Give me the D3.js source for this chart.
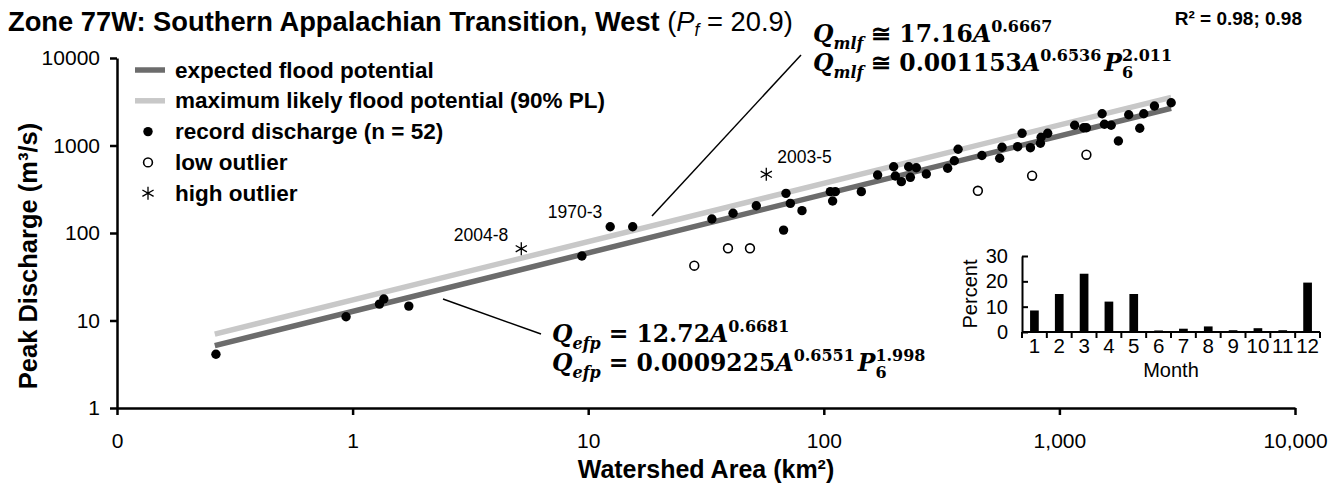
<!DOCTYPE html>
<html>
<head>
<meta charset="utf-8">
<script src="https://cdn.jsdelivr.net/npm/d3@7"></script>
<style>
  html, body { margin: 0; padding: 0; background: #fff; }
  svg { display: block; font-family: "Liberation Sans", Arial, sans-serif; }
</style>
</head>
<body>
<svg id="chart" width="1332" height="489"></svg>
<script>
// ---- Data -------------------------------------------------------------
// Record discharges: watershed area (km²) and peak discharge (m³/s)
const recordArea = [0.263, 0.938, 1.30, 1.357, 1.732, 9.40, 12.4, 15.45, 33.5, 41.2,
  51.7, 67.5, 69.1, 72.1, 80.8, 106.6, 111.9, 109, 144.3, 169.2,
  197.9, 201.2, 213.4, 229.2, 233, 247, 272.4, 335.6, 358.2, 371.5,
  468.9, 557.9, 571, 665, 694.3, 753.2, 830.6, 836.4, 891.9, 1161,
  1268, 1302, 1518, 1553, 1658, 1780, 1969, 2193, 2280, 2532, 2981];
const recordQ = [4.11, 11.05, 15.4, 17.6, 14.6, 54.6, 118, 118, 144.5, 168,
  205, 108, 284, 218, 180, 297, 297, 232, 297, 460,
  572, 448, 386, 572, 433, 557, 472, 549, 670, 905,
  769, 714, 954, 969, 1378, 944, 1060, 1241, 1378, 1702,
  1597, 1597, 2309, 1747, 1702, 1126, 2249, 1573, 2309, 2828, 3084];

// Low outliers
const lowArea = [28.2, 39.2, 48.6, 450.8, 765.9, 1302];
const lowQ = [42.3, 66.9, 66.9, 303.6, 451.7, 785];

// High outliers (with event year-month)
const highArea = [5.2, 57];
const highQ = [66.2, 469];
const highLabel = ["2004-8", "2003-5"];

// Annotated record event
const noteArea = [12.4];
const noteQ = [118];
const noteLabel = ["1970-3"];

// Envelope curves Q = a·A^b
const efpCoef = [12.72, 0.6681];
const mlfCoef = [17.16, 0.6667];
const curveArea = [0.26, 2981];

// Month of occurrence (percent of events)
const months = ["1", "2", "3", "4", "5", "6", "7", "8", "9", "10", "11", "12"];
const monthPercent = [8.5, 15, 23, 12, 15, 0.6, 1.3, 2.2, 0.7, 1.5, 0.7, 19.5];
const percentTicks = [0, 10, 20, 30];

// Axis ticks
const xTickValues = [0.1, 1, 10, 100, 1000, 10000];
const xTickLabels = ["0", "1", "10", "100", "1,000", "10,000"];
const yTickValues = [1, 10, 100, 1000, 10000];
const yTickLabels = ["1", "10", "100", "1000", "10000"];

// ---- Layout -----------------------------------------------------------
const svg = d3.select("#chart");
const plot = { left: 117, right: 1295, top: 58, bottom: 408 };
const x = d3.scaleLog().domain([0.1, 10000]).range([plot.left, plot.right]);
const y = d3.scaleLog().domain([1, 10000]).range([plot.bottom, plot.top]);

const darkGrey = "#6c6c6c";
const lightGrey = "#c8c8c8";

// ---- Title --------------------------------------------------------------
const title = svg.append("text").attr("x", 8).attr("y", 31)
  .attr("font-size", 27.3).attr("font-weight", "bold").attr("fill", "#000")
  .text("Zone 77W: Southern Appalachian Transition, West ");
const tNorm = title.append("tspan").attr("font-weight", "normal");
tNorm.append("tspan").text("(");
tNorm.append("tspan").attr("font-style", "italic").text("P");
tNorm.append("tspan").attr("font-style", "italic").attr("font-size", 17.5).attr("dy", 5).text("f");
tNorm.append("tspan").attr("dy", -5).text(" = 20.9)");

svg.append("text").attr("x", 1302).attr("y", 25).attr("text-anchor", "end")
  .attr("font-size", 19).attr("font-weight", "bold")
  .text("R² = 0.98; 0.98");

// ---- Axes ---------------------------------------------------------------
const xAxis = d3.axisBottom(x).tickValues(xTickValues)
  .tickFormat((d, i) => xTickLabels[i]).tickSizeInner(7).tickSizeOuter(0).tickPadding(18);
const yAxis = d3.axisLeft(y).tickValues(yTickValues)
  .tickFormat((d, i) => yTickLabels[i]).tickSizeInner(7).tickSizeOuter(0).tickPadding(10);

const gx = svg.append("g").attr("transform", `translate(0,${plot.bottom})`).call(xAxis);
const gy = svg.append("g").attr("transform", `translate(${plot.left},0)`).call(yAxis);
[gx, gy].forEach(g => {
  g.selectAll("path, line").attr("stroke", "#000").attr("stroke-width", 2.5);
  g.selectAll("text").attr("font-size", 21).attr("fill", "#000")
    .attr("font-family", "'Liberation Sans', Arial, sans-serif");
});

svg.append("text").attr("x", (plot.left + plot.right) / 2).attr("y", 478)
  .attr("text-anchor", "middle").attr("font-size", 25).attr("font-weight", "bold")
  .text("Watershed Area (km²)");
svg.append("text").attr("transform", "translate(37,256) rotate(-90)")
  .attr("text-anchor", "middle").attr("font-size", 25.5).attr("font-weight", "bold")
  .text("Peak Discharge (m³/s)");

// ---- Envelope curves ------------------------------------------------------
const curve = (coef) => curveArea.map(a => [a, coef[0] * Math.pow(a, coef[1])]);
const line = d3.line().x(d => x(d[0])).y(d => y(d[1]));
svg.append("path").datum(curve(mlfCoef)).attr("d", line)
  .attr("fill", "none").attr("stroke", lightGrey).attr("stroke-width", 5.5);
svg.append("path").datum(curve(efpCoef)).attr("d", line)
  .attr("fill", "none").attr("stroke", darkGrey).attr("stroke-width", 5.5);

// ---- Points ---------------------------------------------------------------
const dotR = 4.7;
svg.append("g").selectAll("circle").data(recordArea).join("circle")
  .attr("cx", d => x(d)).attr("cy", (d, i) => y(recordQ[i])).attr("r", dotR).attr("fill", "#000");

svg.append("g").selectAll("circle").data(lowArea).join("circle")
  .attr("cx", d => x(d)).attr("cy", (d, i) => y(lowQ[i])).attr("r", 4.4)
  .attr("fill", "#fff").attr("stroke", "#000").attr("stroke-width", 1.6);

const starPath = "M0,-6.5L0,6.5M-5.6,-3.2L5.6,3.2M-5.6,3.2L5.6,-3.2";
svg.append("g").selectAll("path").data(highArea).join("path")
  .attr("transform", (d, i) => `translate(${x(d)},${y(highQ[i])})`)
  .attr("d", starPath).attr("stroke", "#000").attr("stroke-width", 1.3).attr("fill", "none");

// Event labels
svg.append("text").attr("x", x(highArea[0]) - 13).attr("y", y(highQ[0]) - 8)
  .attr("text-anchor", "end").attr("font-size", 17.5).text(highLabel[0]);
svg.append("text").attr("x", x(highArea[1]) + 11).attr("y", y(highQ[1]) - 11)
  .attr("font-size", 17.5).text(highLabel[1]);
svg.append("text").attr("x", x(noteArea[0]) - 8).attr("y", y(noteQ[0]) - 9)
  .attr("text-anchor", "end").attr("font-size", 17.5).text(noteLabel[0]);

// ---- Legend ---------------------------------------------------------------
const legendRows = [
  { label: "expected flood potential", kind: "line", color: darkGrey },
  { label: "maximum likely flood potential (90% PL)", kind: "line", color: lightGrey },
  { label: "record discharge (n = 52)", kind: "dot" },
  { label: "low outlier", kind: "open" },
  { label: "high outlier", kind: "star" }
];
const legend = svg.append("g");
legendRows.forEach((r, i) => {
  const cy = 70 + i * 30.8;
  if (r.kind === "line") {
    legend.append("line").attr("x1", 135).attr("x2", 165).attr("y1", cy).attr("y2", cy)
      .attr("stroke", r.color).attr("stroke-width", 5.5);
  } else if (r.kind === "dot") {
    legend.append("circle").attr("cx", 148).attr("cy", cy).attr("r", dotR).attr("fill", "#000");
  } else if (r.kind === "open") {
    legend.append("circle").attr("cx", 148).attr("cy", cy).attr("r", 4.4)
      .attr("fill", "#fff").attr("stroke", "#000").attr("stroke-width", 1.6);
  } else {
    legend.append("path").attr("transform", `translate(148,${cy})`).attr("d", starPath)
      .attr("stroke", "#000").attr("stroke-width", 1.3).attr("fill", "none");
  }
  legend.append("text").attr("x", 175).attr("y", cy + 7.5)
    .attr("font-size", 22.5).attr("font-weight", "bold").text(r.label);
});

// ---- Equations ------------------------------------------------------------
const eqFont = "'DejaVu Serif', 'Liberation Serif', serif";
const eqSize = 23.5;
function equation(x0, y0, parts) {
  let cx = x0;
  parts.forEach(p => {
    if (p.gap) { cx += p.gap; return; }
    const small = p.sub || p.sup;
    const fs = small ? eqSize * 0.68 : eqSize;
    const dy = p.sub ? eqSize * 0.3 : p.sup ? -eqSize * 0.42 : 0;
    const t = svg.append("text").attr("x", cx).attr("y", y0 + dy)
      .attr("font-family", eqFont).attr("font-size", fs).attr("font-weight", "bold")
      .attr("font-style", p.it ? "italic" : "normal").text(p.t);
    if (!p.hold) cx += t.node().getComputedTextLength();
  });
}
equation(813, 42, [
  { t: "Q", it: 1 }, { t: "mlf", it: 1, sub: 1 }, { gap: 8 }, { t: "≅" }, { gap: 8 },
  { t: "17.16" }, { t: "A", it: 1 }, { t: "0.6667", sup: 1 }
]);
equation(813, 71, [
  { t: "Q", it: 1 }, { t: "mlf", it: 1, sub: 1 }, { gap: 8 }, { t: "≅" }, { gap: 8 },
  { t: "0.001153" }, { t: "A", it: 1 }, { t: "0.6536", sup: 1 }, { gap: 3 },
  { t: "P", it: 1 }, { t: "6", sub: 1, hold: 1 }, { t: "2.011", sup: 1 }
]);
equation(552, 342, [
  { t: "Q", it: 1 }, { t: "efp", it: 1, sub: 1 }, { gap: 8 }, { t: "=" }, { gap: 8 },
  { t: "12.72" }, { t: "A", it: 1 }, { t: "0.6681", sup: 1 }
]);
equation(552, 371, [
  { t: "Q", it: 1 }, { t: "efp", it: 1, sub: 1 }, { gap: 8 }, { t: "=" }, { gap: 8 },
  { t: "0.0009225" }, { t: "A", it: 1 }, { t: "0.6551", sup: 1 }, { gap: 3 },
  { t: "P", it: 1 }, { t: "6", sub: 1, hold: 1 }, { t: "1.998", sup: 1 }
]);

// Leader lines from curves to their equations
svg.append("line").attr("x1", 652).attr("y1", 216).attr("x2", 801).attr("y2", 55)
  .attr("stroke", "#000").attr("stroke-width", 1.5);
svg.append("line").attr("x1", 443).attr("y1", 299).attr("x2", 541).attr("y2", 334)
  .attr("stroke", "#000").attr("stroke-width", 1.5);

// ---- Inset: month of occurrence ------------------------------------------
const inset = { left: 1022, right: 1320, top: 256, bottom: 332 };
const mx = d3.scaleBand().domain(months).range([inset.left, inset.right])
  .paddingInner(0.65).paddingOuter(0.325);
const edge = d3.scaleLinear().domain([0, months.length]).range([inset.left, inset.right]);
const py = d3.scaleLinear().domain([0, 30]).range([inset.bottom, inset.top]);

svg.append("g").selectAll("rect").data(monthPercent).join("rect")
  .attr("x", (d, i) => mx(months[i])).attr("width", mx.bandwidth())
  .attr("y", d => py(d)).attr("height", d => py(0) - py(d)).attr("fill", "#000");

const insetAxisY = d3.axisLeft(py).tickValues(percentTicks)
  .tickSizeInner(-6).tickSizeOuter(0).tickPadding(14);
const giy = svg.append("g").attr("transform", `translate(${inset.left},0)`).call(insetAxisY);
giy.selectAll("path, line").attr("stroke", "#000").attr("stroke-width", 2);
giy.selectAll("text").attr("font-size", 20).attr("font-family", "'Liberation Sans', Arial, sans-serif");

const gix = svg.append("g");
gix.append("line").attr("x1", inset.left).attr("x2", inset.right)
  .attr("y1", inset.bottom).attr("y2", inset.bottom).attr("stroke", "#000").attr("stroke-width", 2);
gix.selectAll("line.tk").data(d3.range(months.length + 1)).join("line").attr("class", "tk")
  .attr("x1", d => edge(d)).attr("x2", d => edge(d))
  .attr("y1", inset.bottom).attr("y2", inset.bottom + 6).attr("stroke", "#000").attr("stroke-width", 2);
gix.selectAll("text").data(months).join("text")
  .attr("x", d => mx(d) + mx.bandwidth() / 2).attr("y", 353)
  .attr("text-anchor", "middle").attr("font-size", 20.5).text(d => d);

svg.append("text").attr("x", (inset.left + inset.right) / 2).attr("y", 377)
  .attr("text-anchor", "middle").attr("font-size", 20).text("Month");
svg.append("text").attr("transform", `translate(977,${(inset.top + inset.bottom) / 2}) rotate(-90)`)
  .attr("text-anchor", "middle").attr("font-size", 20).text("Percent");
</script>
</body>
</html>
